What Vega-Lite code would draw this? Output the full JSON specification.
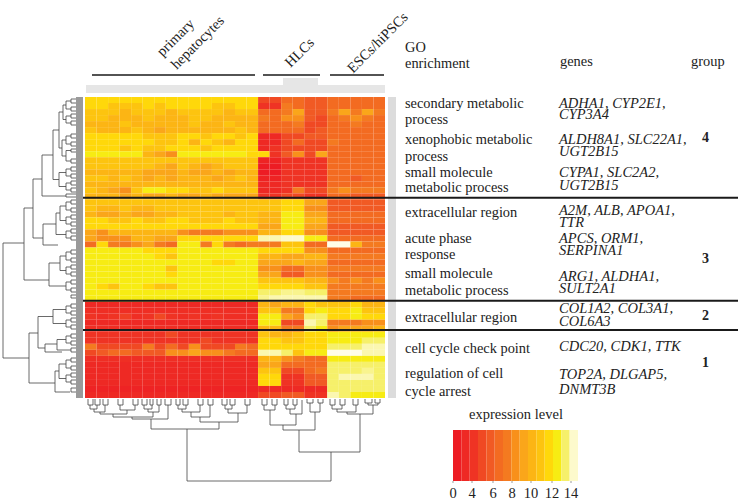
{"$schema":"https://vega.github.io/schema/vega-lite/v6.json","autosize":{"type":"fit","contains":"padding"},"width":738,"height":503,"padding":0,"background":"#ffffff","view":{"stroke":null},
"config":{"text":{"font":"Liberation Serif","fill":"#222222"}},
"datasets":{"top":[{"a":88,"b":93,"m":405,"p":399,"q":399},{"a":95,"b":100,"m":405,"p":399,"q":399},{"a":103,"b":108,"m":405,"p":399,"q":399},{"a":118,"b":123,"m":405,"p":399,"q":399},{"a":133,"b":138,"m":405,"p":399,"q":399},{"a":142,"b":147,"m":405,"p":399,"q":399},{"a":150,"b":153,"m":405,"p":399,"q":399},{"a":157,"b":161,"m":405,"p":399,"q":399},{"a":165,"b":171,"m":405,"p":399,"q":399},{"a":176,"b":180,"m":405,"p":399,"q":399},{"a":183,"b":188,"m":405,"p":399,"q":399},{"a":198,"b":203,"m":405,"p":399,"q":399},{"a":208,"b":213,"m":405,"p":399,"q":399},{"a":222,"b":227,"m":405,"p":399,"q":399},{"a":230,"b":235,"m":405,"p":399,"q":399},{"a":245,"b":250,"m":405,"p":399,"q":399},{"a":262,"b":267,"m":405,"p":399,"q":399},{"a":272,"b":277,"m":405,"p":399,"q":399},{"a":284,"b":288,"m":405,"p":399,"q":399},{"a":293,"b":297,"m":405,"p":399,"q":399},{"a":307,"b":313,"m":403,"p":399,"q":399},{"a":318,"b":323,"m":403,"p":399,"q":399},{"a":330,"b":335,"m":405,"p":399,"q":399},{"a":340,"b":345,"m":405,"p":399,"q":399},{"a":353,"b":358,"m":405,"p":399,"q":399},{"a":365,"b":372,"m":403,"p":399,"q":399},{"a":375,"b":380,"m":403,"p":399,"q":399},
{"a":90,"b":97,"m":409,"p":405,"q":405},{"a":94,"b":105,"m":412,"p":409,"q":405},{"a":120,"b":135,"m":410,"p":405,"q":405},{"a":100,"b":127,"m":414,"p":412,"q":410},{"a":144,"b":152,"m":409,"p":405,"q":405},{"a":148,"b":159,"m":412,"p":409,"q":405},{"a":113,"b":153,"m":417,"p":414,"q":412},{"a":132,"b":168,"m":419,"p":417,"q":405},{"a":178,"b":186,"m":409,"p":405,"q":405},{"a":182,"b":200,"m":412,"p":409,"q":405},{"a":191,"b":210,"m":417,"p":412,"q":405},{"a":225,"b":232,"m":409,"p":405,"q":405},{"a":228,"b":247,"m":413,"p":409,"q":405},{"a":200,"b":238,"m":422,"p":417,"q":413},{"a":151,"b":219,"m":429,"p":419,"q":422},
{"a":264,"b":275,"m":410,"p":405,"q":405},{"a":286,"b":295,"m":409,"p":405,"q":405},{"a":290,"b":302,"m":414,"p":409,"q":400},{"a":270,"b":296,"m":425,"p":410,"q":414},{"a":310,"b":320,"m":412,"p":403,"q":403},{"a":283,"b":315,"m":430,"p":425,"q":412},{"a":332,"b":342,"m":409,"p":405,"q":405},{"a":337,"b":356,"m":412,"p":409,"q":405},{"a":368,"b":378,"m":405,"p":403,"q":403},{"a":347,"b":373,"m":414,"p":412,"q":405},{"a":299,"b":360,"m":452,"p":430,"q":414},{"a":187,"b":331,"m":481,"p":429,"q":452}],
"left":[{"a":243,"b":358,"m":3,"p":24,"q":29},{"a":208,"b":280,"m":24,"p":33,"q":49},{"a":333,"b":383,"m":29,"p":38,"q":55},{"a":179,"b":238,"m":33,"p":42,"q":43},{"a":155,"b":196,"m":42,"p":53,"q":66},{"a":130,"b":179.5,"m":53,"p":59,"q":59},{"a":112,"b":148,"m":59,"p":63,"q":62},{"a":105,"b":119.5,"m":63,"p":66,"q":66},{"a":140,"b":156,"m":62,"p":66,"q":66},{"a":172.5,"b":186.5,"m":59,"p":66,"q":66},{"a":206,"b":220.5,"m":60,"p":66,"q":66},{"a":213,"b":234.5,"m":56,"p":60,"q":66},{"a":224,"b":245,"m":43,"p":56,"q":58},{"a":256,"b":270.5,"m":60,"p":66,"q":66},{"a":263,"b":286,"m":49,"p":60,"q":66},{"a":309.5,"b":323.5,"m":53,"p":66,"q":66},{"a":316.5,"b":348,"m":38,"p":53,"q":45},{"a":339.5,"b":350,"m":57,"p":66,"q":71},{"a":344,"b":352,"m":45,"p":57,"q":62},{"a":364,"b":378.5,"m":59,"p":66,"q":66},{"a":371,"b":392,"m":55,"p":59,"q":70},
{"a":101,"b":109,"m":66,"p":71,"q":71},{"a":116,"b":123,"m":66,"p":71,"q":71},{"a":136,"b":144,"m":66,"p":71,"q":71},{"a":150.5,"b":161,"m":66,"p":71,"q":71},{"a":169,"b":176,"m":66,"p":71,"q":71},{"a":183,"b":190,"m":66,"p":71,"q":71},{"a":202,"b":210,"m":66,"p":71,"q":71},{"a":217,"b":224,"m":66,"p":71,"q":71},{"a":231,"b":238,"m":66,"p":71,"q":71},{"a":252,"b":260,"m":66,"p":71,"q":71},{"a":267,"b":274,"m":66,"p":71,"q":71},{"a":282,"b":290,"m":66,"p":71,"q":71},{"a":306,"b":313,"m":66,"p":71,"q":71},{"a":320,"b":327,"m":66,"p":71,"q":71},{"a":336,"b":343,"m":66,"p":71,"q":71},{"a":360,"b":368,"m":66,"p":71,"q":71},{"a":375,"b":382,"m":66,"p":71,"q":71},
{"a":99,"b":103,"m":71,"p":76,"q":76},{"a":107,"b":111,"m":71,"p":76,"q":76},{"a":114,"b":118,"m":71,"p":76,"q":76},{"a":121,"b":125,"m":71,"p":76,"q":76},{"a":134,"b":138,"m":71,"p":76,"q":76},{"a":142,"b":146,"m":71,"p":76,"q":76},{"a":149,"b":152,"m":71,"p":76,"q":76},{"a":159,"b":163,"m":71,"p":76,"q":76},{"a":167,"b":171,"m":71,"p":76,"q":76},{"a":174,"b":178,"m":71,"p":76,"q":76},{"a":181,"b":185,"m":71,"p":76,"q":76},{"a":188,"b":192,"m":71,"p":76,"q":76},{"a":194,"b":197,"m":66,"p":76,"q":76},{"a":200,"b":204,"m":71,"p":76,"q":76},{"a":208,"b":212,"m":71,"p":76,"q":76},{"a":215,"b":219,"m":71,"p":76,"q":76},{"a":222,"b":226,"m":71,"p":76,"q":76},{"a":229,"b":233,"m":71,"p":76,"q":76},{"a":236,"b":240,"m":71,"p":76,"q":76},{"a":250,"b":254,"m":71,"p":76,"q":76},{"a":258,"b":262,"m":71,"p":76,"q":76},{"a":265,"b":269,"m":71,"p":76,"q":76},{"a":272,"b":276,"m":71,"p":76,"q":76},{"a":280,"b":284,"m":71,"p":76,"q":76},{"a":288,"b":292,"m":71,"p":76,"q":76},{"a":295,"b":298,"m":71,"p":76,"q":76},{"a":304,"b":308,"m":71,"p":76,"q":76},{"a":311,"b":315,"m":71,"p":76,"q":76},{"a":318,"b":322,"m":71,"p":76,"q":76},{"a":325,"b":329,"m":71,"p":76,"q":76},{"a":334,"b":338,"m":71,"p":76,"q":76},{"a":341,"b":345,"m":71,"p":76,"q":76},{"a":348,"b":352,"m":71,"p":76,"q":76},{"a":358,"b":362,"m":71,"p":76,"q":76},{"a":366,"b":370,"m":71,"p":76,"q":76},{"a":373,"b":377,"m":71,"p":76,"q":76},{"a":380,"b":384,"m":71,"p":76,"q":76},{"a":388,"b":392,"m":71,"p":76,"q":76}],
"heat":[
{"r":0,"c":0,"v":11},{"r":0,"c":1,"v":11},{"r":0,"c":2,"v":11},{"r":0,"c":3,"v":11},{"r":0,"c":4,"v":11},{"r":0,"c":5,"v":11},{"r":0,"c":6,"v":11},{"r":0,"c":7,"v":11},{"r":0,"c":8,"v":11},{"r":0,"c":9,"v":11},{"r":0,"c":10,"v":11},{"r":0,"c":11,"v":11},{"r":0,"c":12,"v":11},{"r":0,"c":13,"v":11},{"r":0,"c":14,"v":11},{"r":0,"c":15,"v":3},{"r":0,"c":16,"v":3},{"r":0,"c":17,"v":5},{"r":0,"c":18,"v":5},{"r":0,"c":19,"v":4},{"r":0,"c":20,"v":4},{"r":0,"c":21,"v":5},{"r":0,"c":22,"v":5},{"r":0,"c":23,"v":5},{"r":0,"c":24,"v":5},{"r":0,"c":25,"v":5},
{"r":1,"c":0,"v":11},{"r":1,"c":1,"v":11},{"r":1,"c":2,"v":10},{"r":1,"c":3,"v":10},{"r":1,"c":4,"v":10},{"r":1,"c":5,"v":11},{"r":1,"c":6,"v":10},{"r":1,"c":7,"v":11},{"r":1,"c":8,"v":11},{"r":1,"c":9,"v":11},{"r":1,"c":10,"v":11},{"r":1,"c":11,"v":10},{"r":1,"c":12,"v":10},{"r":1,"c":13,"v":11},{"r":1,"c":14,"v":11},{"r":1,"c":15,"v":2},{"r":1,"c":16,"v":2},{"r":1,"c":17,"v":6},{"r":1,"c":18,"v":5},{"r":1,"c":19,"v":4},{"r":1,"c":20,"v":4},{"r":1,"c":21,"v":5},{"r":1,"c":22,"v":5},{"r":1,"c":23,"v":5},{"r":1,"c":24,"v":5},{"r":1,"c":25,"v":5},
{"r":2,"c":0,"v":10},{"r":2,"c":1,"v":10},{"r":2,"c":2,"v":10},{"r":2,"c":3,"v":9},{"r":2,"c":4,"v":10},{"r":2,"c":5,"v":10},{"r":2,"c":6,"v":10},{"r":2,"c":7,"v":9},{"r":2,"c":8,"v":10},{"r":2,"c":9,"v":10},{"r":2,"c":10,"v":10},{"r":2,"c":11,"v":10},{"r":2,"c":12,"v":9},{"r":2,"c":13,"v":10},{"r":2,"c":14,"v":10},{"r":2,"c":15,"v":5},{"r":2,"c":16,"v":5},{"r":2,"c":17,"v":6},{"r":2,"c":18,"v":8},{"r":2,"c":19,"v":4},{"r":2,"c":20,"v":4},{"r":2,"c":21,"v":6},{"r":2,"c":22,"v":8},{"r":2,"c":23,"v":6},{"r":2,"c":24,"v":8},{"r":2,"c":25,"v":6},
{"r":3,"c":0,"v":10},{"r":3,"c":1,"v":10},{"r":3,"c":2,"v":9},{"r":3,"c":3,"v":9},{"r":3,"c":4,"v":9},{"r":3,"c":5,"v":10},{"r":3,"c":6,"v":9},{"r":3,"c":7,"v":9},{"r":3,"c":8,"v":9},{"r":3,"c":9,"v":10},{"r":3,"c":10,"v":10},{"r":3,"c":11,"v":9},{"r":3,"c":12,"v":9},{"r":3,"c":13,"v":9},{"r":3,"c":14,"v":9},{"r":3,"c":15,"v":6},{"r":3,"c":16,"v":5},{"r":3,"c":17,"v":7},{"r":3,"c":18,"v":7},{"r":3,"c":19,"v":4},{"r":3,"c":20,"v":3},{"r":3,"c":21,"v":5},{"r":3,"c":22,"v":6},{"r":3,"c":23,"v":7},{"r":3,"c":24,"v":6},{"r":3,"c":25,"v":5},
{"r":4,"c":0,"v":9},{"r":4,"c":1,"v":9},{"r":4,"c":2,"v":9},{"r":4,"c":3,"v":10},{"r":4,"c":4,"v":9},{"r":4,"c":5,"v":9},{"r":4,"c":6,"v":9},{"r":4,"c":7,"v":9},{"r":4,"c":8,"v":9},{"r":4,"c":9,"v":10},{"r":4,"c":10,"v":9},{"r":4,"c":11,"v":9},{"r":4,"c":12,"v":10},{"r":4,"c":13,"v":9},{"r":4,"c":14,"v":9},{"r":4,"c":15,"v":5},{"r":4,"c":16,"v":5},{"r":4,"c":17,"v":5},{"r":4,"c":18,"v":6},{"r":4,"c":19,"v":3},{"r":4,"c":20,"v":3},{"r":4,"c":21,"v":5},{"r":4,"c":22,"v":5},{"r":4,"c":23,"v":6},{"r":4,"c":24,"v":5},{"r":4,"c":25,"v":5},
{"r":5,"c":0,"v":10},{"r":5,"c":1,"v":9},{"r":5,"c":2,"v":9},{"r":5,"c":3,"v":9},{"r":5,"c":4,"v":10},{"r":5,"c":5,"v":9},{"r":5,"c":6,"v":8},{"r":5,"c":7,"v":9},{"r":5,"c":8,"v":9},{"r":5,"c":9,"v":9},{"r":5,"c":10,"v":9},{"r":5,"c":11,"v":9},{"r":5,"c":12,"v":9},{"r":5,"c":13,"v":10},{"r":5,"c":14,"v":9},{"r":5,"c":15,"v":5},{"r":5,"c":16,"v":5},{"r":5,"c":17,"v":5},{"r":5,"c":18,"v":5},{"r":5,"c":19,"v":3},{"r":5,"c":20,"v":4},{"r":5,"c":21,"v":5},{"r":5,"c":22,"v":5},{"r":5,"c":23,"v":5},{"r":5,"c":24,"v":5},{"r":5,"c":25,"v":5},
{"r":6,"c":0,"v":11},{"r":6,"c":1,"v":11},{"r":6,"c":2,"v":11},{"r":6,"c":3,"v":11},{"r":6,"c":4,"v":11},{"r":6,"c":5,"v":10},{"r":6,"c":6,"v":10},{"r":6,"c":7,"v":10},{"r":6,"c":8,"v":11},{"r":6,"c":9,"v":11},{"r":6,"c":10,"v":10},{"r":6,"c":11,"v":11},{"r":6,"c":12,"v":11},{"r":6,"c":13,"v":10},{"r":6,"c":14,"v":11},{"r":6,"c":15,"v":1},{"r":6,"c":16,"v":1},{"r":6,"c":17,"v":3},{"r":6,"c":18,"v":3},{"r":6,"c":19,"v":4},{"r":6,"c":20,"v":4},{"r":6,"c":21,"v":5},{"r":6,"c":22,"v":5},{"r":6,"c":23,"v":5},{"r":6,"c":24,"v":5},{"r":6,"c":25,"v":5},
{"r":7,"c":0,"v":11},{"r":7,"c":1,"v":11},{"r":7,"c":2,"v":11},{"r":7,"c":3,"v":11},{"r":7,"c":4,"v":11},{"r":7,"c":5,"v":11},{"r":7,"c":6,"v":10},{"r":7,"c":7,"v":10},{"r":7,"c":8,"v":11},{"r":7,"c":9,"v":9},{"r":7,"c":10,"v":11},{"r":7,"c":11,"v":10},{"r":7,"c":12,"v":9},{"r":7,"c":13,"v":11},{"r":7,"c":14,"v":11},{"r":7,"c":15,"v":1},{"r":7,"c":16,"v":1},{"r":7,"c":17,"v":3},{"r":7,"c":18,"v":5},{"r":7,"c":19,"v":3},{"r":7,"c":20,"v":3},{"r":7,"c":21,"v":6},{"r":7,"c":22,"v":5},{"r":7,"c":23,"v":5},{"r":7,"c":24,"v":5},{"r":7,"c":25,"v":5},
{"r":8,"c":0,"v":11},{"r":8,"c":1,"v":11},{"r":8,"c":2,"v":11},{"r":8,"c":3,"v":10},{"r":8,"c":4,"v":11},{"r":8,"c":5,"v":10},{"r":8,"c":6,"v":10},{"r":8,"c":7,"v":11},{"r":8,"c":8,"v":11},{"r":8,"c":9,"v":11},{"r":8,"c":10,"v":10},{"r":8,"c":11,"v":11},{"r":8,"c":12,"v":11},{"r":8,"c":13,"v":11},{"r":8,"c":14,"v":11},{"r":8,"c":15,"v":1},{"r":8,"c":16,"v":2},{"r":8,"c":17,"v":3},{"r":8,"c":18,"v":3},{"r":8,"c":19,"v":3},{"r":8,"c":20,"v":3},{"r":8,"c":21,"v":5},{"r":8,"c":22,"v":5},{"r":8,"c":23,"v":5},{"r":8,"c":24,"v":5},{"r":8,"c":25,"v":5},
{"r":9,"c":0,"v":12},{"r":9,"c":1,"v":12},{"r":9,"c":2,"v":12},{"r":9,"c":3,"v":12},{"r":9,"c":4,"v":12},{"r":9,"c":5,"v":9},{"r":9,"c":6,"v":8},{"r":9,"c":7,"v":7},{"r":9,"c":8,"v":12},{"r":9,"c":9,"v":12},{"r":9,"c":10,"v":12},{"r":9,"c":11,"v":12},{"r":9,"c":12,"v":12},{"r":9,"c":13,"v":12},{"r":9,"c":14,"v":11},{"r":9,"c":15,"v":11},{"r":9,"c":16,"v":2},{"r":9,"c":17,"v":4},{"r":9,"c":18,"v":7},{"r":9,"c":19,"v":3},{"r":9,"c":20,"v":8},{"r":9,"c":21,"v":5},{"r":9,"c":22,"v":5},{"r":9,"c":23,"v":5},{"r":9,"c":24,"v":5},{"r":9,"c":25,"v":5},
{"r":10,"c":0,"v":10},{"r":10,"c":1,"v":10},{"r":10,"c":2,"v":10},{"r":10,"c":3,"v":10},{"r":10,"c":4,"v":10},{"r":10,"c":5,"v":10},{"r":10,"c":6,"v":10},{"r":10,"c":7,"v":10},{"r":10,"c":8,"v":10},{"r":10,"c":9,"v":10},{"r":10,"c":10,"v":10},{"r":10,"c":11,"v":10},{"r":10,"c":12,"v":10},{"r":10,"c":13,"v":10},{"r":10,"c":14,"v":10},{"r":10,"c":15,"v":0.5},{"r":10,"c":16,"v":0.5},{"r":10,"c":17,"v":2},{"r":10,"c":18,"v":2},{"r":10,"c":19,"v":2},{"r":10,"c":20,"v":2},{"r":10,"c":21,"v":5},{"r":10,"c":22,"v":5},{"r":10,"c":23,"v":5},{"r":10,"c":24,"v":5},{"r":10,"c":25,"v":5},
{"r":11,"c":0,"v":10},{"r":11,"c":1,"v":10},{"r":11,"c":2,"v":10},{"r":11,"c":3,"v":10},{"r":11,"c":4,"v":10},{"r":11,"c":5,"v":10},{"r":11,"c":6,"v":9},{"r":11,"c":7,"v":8},{"r":11,"c":8,"v":10},{"r":11,"c":9,"v":9},{"r":11,"c":10,"v":8},{"r":11,"c":11,"v":9},{"r":11,"c":12,"v":10},{"r":11,"c":13,"v":10},{"r":11,"c":14,"v":10},{"r":11,"c":15,"v":0},{"r":11,"c":16,"v":0},{"r":11,"c":17,"v":2},{"r":11,"c":18,"v":2},{"r":11,"c":19,"v":2},{"r":11,"c":20,"v":2},{"r":11,"c":21,"v":5},{"r":11,"c":22,"v":5},{"r":11,"c":23,"v":5},{"r":11,"c":24,"v":5},{"r":11,"c":25,"v":5},
{"r":12,"c":0,"v":9},{"r":12,"c":1,"v":9},{"r":12,"c":2,"v":9},{"r":12,"c":3,"v":9},{"r":12,"c":4,"v":9},{"r":12,"c":5,"v":8},{"r":12,"c":6,"v":8},{"r":12,"c":7,"v":8},{"r":12,"c":8,"v":9},{"r":12,"c":9,"v":8},{"r":12,"c":10,"v":8},{"r":12,"c":11,"v":9},{"r":12,"c":12,"v":8},{"r":12,"c":13,"v":9},{"r":12,"c":14,"v":9},{"r":12,"c":15,"v":0},{"r":12,"c":16,"v":0},{"r":12,"c":17,"v":2},{"r":12,"c":18,"v":2},{"r":12,"c":19,"v":2},{"r":12,"c":20,"v":2},{"r":12,"c":21,"v":5},{"r":12,"c":22,"v":5},{"r":12,"c":23,"v":5},{"r":12,"c":24,"v":5},{"r":12,"c":25,"v":5},
{"r":13,"c":0,"v":10},{"r":13,"c":1,"v":10},{"r":13,"c":2,"v":9},{"r":13,"c":3,"v":10},{"r":13,"c":4,"v":9},{"r":13,"c":5,"v":8},{"r":13,"c":6,"v":9},{"r":13,"c":7,"v":8},{"r":13,"c":8,"v":9},{"r":13,"c":9,"v":9},{"r":13,"c":10,"v":9},{"r":13,"c":11,"v":8},{"r":13,"c":12,"v":9},{"r":13,"c":13,"v":10},{"r":13,"c":14,"v":9},{"r":13,"c":15,"v":0.5},{"r":13,"c":16,"v":0.5},{"r":13,"c":17,"v":2},{"r":13,"c":18,"v":2},{"r":13,"c":19,"v":2},{"r":13,"c":20,"v":2},{"r":13,"c":21,"v":5},{"r":13,"c":22,"v":5},{"r":13,"c":23,"v":4},{"r":13,"c":24,"v":5},{"r":13,"c":25,"v":5},
{"r":14,"c":0,"v":9},{"r":14,"c":1,"v":9},{"r":14,"c":2,"v":9},{"r":14,"c":3,"v":9},{"r":14,"c":4,"v":9},{"r":14,"c":5,"v":9},{"r":14,"c":6,"v":9},{"r":14,"c":7,"v":9},{"r":14,"c":8,"v":9},{"r":14,"c":9,"v":9},{"r":14,"c":10,"v":9},{"r":14,"c":11,"v":9},{"r":14,"c":12,"v":9},{"r":14,"c":13,"v":9},{"r":14,"c":14,"v":9},{"r":14,"c":15,"v":1},{"r":14,"c":16,"v":1},{"r":14,"c":17,"v":2},{"r":14,"c":18,"v":2},{"r":14,"c":19,"v":2},{"r":14,"c":20,"v":2},{"r":14,"c":21,"v":5},{"r":14,"c":22,"v":5},{"r":14,"c":23,"v":5},{"r":14,"c":24,"v":5},{"r":14,"c":25,"v":5},
{"r":15,"c":0,"v":10},{"r":15,"c":1,"v":9},{"r":15,"c":2,"v":8},{"r":15,"c":3,"v":7},{"r":15,"c":4,"v":10},{"r":15,"c":5,"v":12},{"r":15,"c":6,"v":12},{"r":15,"c":7,"v":11},{"r":15,"c":8,"v":11},{"r":15,"c":9,"v":10},{"r":15,"c":10,"v":10},{"r":15,"c":11,"v":11},{"r":15,"c":12,"v":10},{"r":15,"c":13,"v":10},{"r":15,"c":14,"v":10},{"r":15,"c":15,"v":1},{"r":15,"c":16,"v":1},{"r":15,"c":17,"v":2},{"r":15,"c":18,"v":6},{"r":15,"c":19,"v":3},{"r":15,"c":20,"v":3},{"r":15,"c":21,"v":6},{"r":15,"c":22,"v":7},{"r":15,"c":23,"v":6},{"r":15,"c":24,"v":6},{"r":15,"c":25,"v":6},
{"r":16,"c":0,"v":9},{"r":16,"c":1,"v":9},{"r":16,"c":2,"v":9},{"r":16,"c":3,"v":8},{"r":16,"c":4,"v":9},{"r":16,"c":5,"v":8},{"r":16,"c":6,"v":8},{"r":16,"c":7,"v":9},{"r":16,"c":8,"v":8},{"r":16,"c":9,"v":8},{"r":16,"c":10,"v":9},{"r":16,"c":11,"v":8},{"r":16,"c":12,"v":8},{"r":16,"c":13,"v":8},{"r":16,"c":14,"v":8},{"r":16,"c":15,"v":2},{"r":16,"c":16,"v":2},{"r":16,"c":17,"v":3},{"r":16,"c":18,"v":3},{"r":16,"c":19,"v":2},{"r":16,"c":20,"v":2},{"r":16,"c":21,"v":5},{"r":16,"c":22,"v":5},{"r":16,"c":23,"v":4},{"r":16,"c":24,"v":4},{"r":16,"c":25,"v":4},
{"r":17,"c":0,"v":10},{"r":17,"c":1,"v":10},{"r":17,"c":2,"v":10},{"r":17,"c":3,"v":10},{"r":17,"c":4,"v":10},{"r":17,"c":5,"v":10},{"r":17,"c":6,"v":10},{"r":17,"c":7,"v":10},{"r":17,"c":8,"v":10},{"r":17,"c":9,"v":10},{"r":17,"c":10,"v":10},{"r":17,"c":11,"v":10},{"r":17,"c":12,"v":10},{"r":17,"c":13,"v":10},{"r":17,"c":14,"v":10},{"r":17,"c":15,"v":10},{"r":17,"c":16,"v":10},{"r":17,"c":17,"v":11},{"r":17,"c":18,"v":11},{"r":17,"c":19,"v":8},{"r":17,"c":20,"v":8},{"r":17,"c":21,"v":4},{"r":17,"c":22,"v":4},{"r":17,"c":23,"v":4},{"r":17,"c":24,"v":4},{"r":17,"c":25,"v":4},
{"r":18,"c":0,"v":10},{"r":18,"c":1,"v":9},{"r":18,"c":2,"v":9},{"r":18,"c":3,"v":10},{"r":18,"c":4,"v":9},{"r":18,"c":5,"v":9},{"r":18,"c":6,"v":10},{"r":18,"c":7,"v":10},{"r":18,"c":8,"v":10},{"r":18,"c":9,"v":10},{"r":18,"c":10,"v":10},{"r":18,"c":11,"v":10},{"r":18,"c":12,"v":10},{"r":18,"c":13,"v":10},{"r":18,"c":14,"v":10},{"r":18,"c":15,"v":10},{"r":18,"c":16,"v":10},{"r":18,"c":17,"v":11},{"r":18,"c":18,"v":11},{"r":18,"c":19,"v":7},{"r":18,"c":20,"v":7},{"r":18,"c":21,"v":4},{"r":18,"c":22,"v":4},{"r":18,"c":23,"v":4},{"r":18,"c":24,"v":4},{"r":18,"c":25,"v":4},
{"r":19,"c":0,"v":9},{"r":19,"c":1,"v":8},{"r":19,"c":2,"v":8},{"r":19,"c":3,"v":9},{"r":19,"c":4,"v":8},{"r":19,"c":5,"v":8},{"r":19,"c":6,"v":9},{"r":19,"c":7,"v":9},{"r":19,"c":8,"v":10},{"r":19,"c":9,"v":10},{"r":19,"c":10,"v":10},{"r":19,"c":11,"v":10},{"r":19,"c":12,"v":9},{"r":19,"c":13,"v":10},{"r":19,"c":14,"v":10},{"r":19,"c":15,"v":9},{"r":19,"c":16,"v":9},{"r":19,"c":17,"v":12},{"r":19,"c":18,"v":12},{"r":19,"c":19,"v":8},{"r":19,"c":20,"v":8},{"r":19,"c":21,"v":5},{"r":19,"c":22,"v":5},{"r":19,"c":23,"v":5},{"r":19,"c":24,"v":5},{"r":19,"c":25,"v":5},
{"r":20,"c":0,"v":11},{"r":20,"c":1,"v":11},{"r":20,"c":2,"v":10},{"r":20,"c":3,"v":10},{"r":20,"c":4,"v":11},{"r":20,"c":5,"v":10},{"r":20,"c":6,"v":10},{"r":20,"c":7,"v":11},{"r":20,"c":8,"v":11},{"r":20,"c":9,"v":10},{"r":20,"c":10,"v":10},{"r":20,"c":11,"v":10},{"r":20,"c":12,"v":11},{"r":20,"c":13,"v":10},{"r":20,"c":14,"v":10},{"r":20,"c":15,"v":9},{"r":20,"c":16,"v":9},{"r":20,"c":17,"v":12},{"r":20,"c":18,"v":12},{"r":20,"c":19,"v":9},{"r":20,"c":20,"v":9},{"r":20,"c":21,"v":5},{"r":20,"c":22,"v":5},{"r":20,"c":23,"v":5},{"r":20,"c":24,"v":5},{"r":20,"c":25,"v":5},
{"r":21,"c":0,"v":11},{"r":21,"c":1,"v":11},{"r":21,"c":2,"v":11},{"r":21,"c":3,"v":11},{"r":21,"c":4,"v":11},{"r":21,"c":5,"v":11},{"r":21,"c":6,"v":11},{"r":21,"c":7,"v":11},{"r":21,"c":8,"v":11},{"r":21,"c":9,"v":11},{"r":21,"c":10,"v":11},{"r":21,"c":11,"v":11},{"r":21,"c":12,"v":11},{"r":21,"c":13,"v":11},{"r":21,"c":14,"v":11},{"r":21,"c":15,"v":8},{"r":21,"c":16,"v":8},{"r":21,"c":17,"v":12},{"r":21,"c":18,"v":12},{"r":21,"c":19,"v":8},{"r":21,"c":20,"v":8},{"r":21,"c":21,"v":4},{"r":21,"c":22,"v":4},{"r":21,"c":23,"v":4},{"r":21,"c":24,"v":4},{"r":21,"c":25,"v":4},
{"r":22,"c":0,"v":8},{"r":22,"c":1,"v":7},{"r":22,"c":2,"v":9},{"r":22,"c":3,"v":9},{"r":22,"c":4,"v":9},{"r":22,"c":5,"v":9},{"r":22,"c":6,"v":9},{"r":22,"c":7,"v":9},{"r":22,"c":8,"v":7},{"r":22,"c":9,"v":6},{"r":22,"c":10,"v":6},{"r":22,"c":11,"v":6},{"r":22,"c":12,"v":7},{"r":22,"c":13,"v":7},{"r":22,"c":14,"v":7},{"r":22,"c":15,"v":9},{"r":22,"c":16,"v":9},{"r":22,"c":17,"v":11},{"r":22,"c":18,"v":11},{"r":22,"c":19,"v":7},{"r":22,"c":20,"v":7},{"r":22,"c":21,"v":4},{"r":22,"c":22,"v":4},{"r":22,"c":23,"v":4},{"r":22,"c":24,"v":4},{"r":22,"c":25,"v":4},
{"r":23,"c":0,"v":8},{"r":23,"c":1,"v":7},{"r":23,"c":2,"v":7},{"r":23,"c":3,"v":7},{"r":23,"c":4,"v":9},{"r":23,"c":5,"v":9},{"r":23,"c":6,"v":8},{"r":23,"c":7,"v":8},{"r":23,"c":8,"v":11},{"r":23,"c":9,"v":11},{"r":23,"c":10,"v":11},{"r":23,"c":11,"v":11},{"r":23,"c":12,"v":11},{"r":23,"c":13,"v":11},{"r":23,"c":14,"v":11},{"r":23,"c":15,"v":14},{"r":23,"c":16,"v":14},{"r":23,"c":17,"v":14.5},{"r":23,"c":18,"v":14.5},{"r":23,"c":19,"v":12},{"r":23,"c":20,"v":12},{"r":23,"c":21,"v":5},{"r":23,"c":22,"v":5},{"r":23,"c":23,"v":5},{"r":23,"c":24,"v":5},{"r":23,"c":25,"v":5},
{"r":24,"c":0,"v":5},{"r":24,"c":1,"v":11},{"r":24,"c":2,"v":6},{"r":24,"c":3,"v":6},{"r":24,"c":4,"v":7},{"r":24,"c":5,"v":8},{"r":24,"c":6,"v":6},{"r":24,"c":7,"v":5},{"r":24,"c":8,"v":12},{"r":24,"c":9,"v":12},{"r":24,"c":10,"v":6},{"r":24,"c":11,"v":11},{"r":24,"c":12,"v":6},{"r":24,"c":13,"v":5},{"r":24,"c":14,"v":6},{"r":24,"c":15,"v":6},{"r":24,"c":16,"v":6},{"r":24,"c":17,"v":10},{"r":24,"c":18,"v":10},{"r":24,"c":19,"v":5},{"r":24,"c":20,"v":5},{"r":24,"c":21,"v":15},{"r":24,"c":22,"v":15},{"r":24,"c":23,"v":9},{"r":24,"c":24,"v":6},{"r":24,"c":25,"v":6},
{"r":25,"c":0,"v":12},{"r":25,"c":1,"v":12},{"r":25,"c":2,"v":12},{"r":25,"c":3,"v":12},{"r":25,"c":4,"v":12},{"r":25,"c":5,"v":11},{"r":25,"c":6,"v":11},{"r":25,"c":7,"v":11},{"r":25,"c":8,"v":12},{"r":25,"c":9,"v":12},{"r":25,"c":10,"v":12},{"r":25,"c":11,"v":12},{"r":25,"c":12,"v":12},{"r":25,"c":13,"v":12},{"r":25,"c":14,"v":12},{"r":25,"c":15,"v":11},{"r":25,"c":16,"v":11},{"r":25,"c":17,"v":11},{"r":25,"c":18,"v":11},{"r":25,"c":19,"v":7},{"r":25,"c":20,"v":7},{"r":25,"c":21,"v":5},{"r":25,"c":22,"v":5},{"r":25,"c":23,"v":5},{"r":25,"c":24,"v":5},{"r":25,"c":25,"v":5},
{"r":26,"c":0,"v":12},{"r":26,"c":1,"v":12},{"r":26,"c":2,"v":12},{"r":26,"c":3,"v":12},{"r":26,"c":4,"v":12},{"r":26,"c":5,"v":12},{"r":26,"c":6,"v":11},{"r":26,"c":7,"v":10},{"r":26,"c":8,"v":12},{"r":26,"c":9,"v":12},{"r":26,"c":10,"v":12},{"r":26,"c":11,"v":12},{"r":26,"c":12,"v":12},{"r":26,"c":13,"v":12},{"r":26,"c":14,"v":12},{"r":26,"c":15,"v":9},{"r":26,"c":16,"v":9},{"r":26,"c":17,"v":8},{"r":26,"c":18,"v":8},{"r":26,"c":19,"v":9},{"r":26,"c":20,"v":9},{"r":26,"c":21,"v":6},{"r":26,"c":22,"v":6},{"r":26,"c":23,"v":6},{"r":26,"c":24,"v":6},{"r":26,"c":25,"v":6},
{"r":27,"c":0,"v":12},{"r":27,"c":1,"v":12},{"r":27,"c":2,"v":12},{"r":27,"c":3,"v":12},{"r":27,"c":4,"v":12},{"r":27,"c":5,"v":12},{"r":27,"c":6,"v":12},{"r":27,"c":7,"v":12},{"r":27,"c":8,"v":12},{"r":27,"c":9,"v":12},{"r":27,"c":10,"v":12},{"r":27,"c":11,"v":11},{"r":27,"c":12,"v":11},{"r":27,"c":13,"v":12},{"r":27,"c":14,"v":12},{"r":27,"c":15,"v":8},{"r":27,"c":16,"v":8},{"r":27,"c":17,"v":8},{"r":27,"c":18,"v":9},{"r":27,"c":19,"v":8},{"r":27,"c":20,"v":8},{"r":27,"c":21,"v":5},{"r":27,"c":22,"v":5},{"r":27,"c":23,"v":5},{"r":27,"c":24,"v":5},{"r":27,"c":25,"v":5},
{"r":28,"c":0,"v":12},{"r":28,"c":1,"v":12},{"r":28,"c":2,"v":12},{"r":28,"c":3,"v":12},{"r":28,"c":4,"v":12},{"r":28,"c":5,"v":12},{"r":28,"c":6,"v":12},{"r":28,"c":7,"v":10},{"r":28,"c":8,"v":12},{"r":28,"c":9,"v":12},{"r":28,"c":10,"v":12},{"r":28,"c":11,"v":12},{"r":28,"c":12,"v":12},{"r":28,"c":13,"v":12},{"r":28,"c":14,"v":12},{"r":28,"c":15,"v":7},{"r":28,"c":16,"v":7},{"r":28,"c":17,"v":5},{"r":28,"c":18,"v":5},{"r":28,"c":19,"v":7},{"r":28,"c":20,"v":7},{"r":28,"c":21,"v":6},{"r":28,"c":22,"v":6},{"r":28,"c":23,"v":6},{"r":28,"c":24,"v":6},{"r":28,"c":25,"v":6},
{"r":29,"c":0,"v":12},{"r":29,"c":1,"v":12},{"r":29,"c":2,"v":12},{"r":29,"c":3,"v":12},{"r":29,"c":4,"v":12},{"r":29,"c":5,"v":12},{"r":29,"c":6,"v":12},{"r":29,"c":7,"v":11},{"r":29,"c":8,"v":12},{"r":29,"c":9,"v":12},{"r":29,"c":10,"v":12},{"r":29,"c":11,"v":12},{"r":29,"c":12,"v":12},{"r":29,"c":13,"v":12},{"r":29,"c":14,"v":12},{"r":29,"c":15,"v":8},{"r":29,"c":16,"v":8},{"r":29,"c":17,"v":4},{"r":29,"c":18,"v":4},{"r":29,"c":19,"v":7},{"r":29,"c":20,"v":7},{"r":29,"c":21,"v":5},{"r":29,"c":22,"v":5},{"r":29,"c":23,"v":5},{"r":29,"c":24,"v":5},{"r":29,"c":25,"v":5},
{"r":30,"c":0,"v":12},{"r":30,"c":1,"v":12},{"r":30,"c":2,"v":12},{"r":30,"c":3,"v":12},{"r":30,"c":4,"v":12},{"r":30,"c":5,"v":12},{"r":30,"c":6,"v":12},{"r":30,"c":7,"v":12},{"r":30,"c":8,"v":12},{"r":30,"c":9,"v":12},{"r":30,"c":10,"v":12},{"r":30,"c":11,"v":12},{"r":30,"c":12,"v":12},{"r":30,"c":13,"v":12},{"r":30,"c":14,"v":12},{"r":30,"c":15,"v":10},{"r":30,"c":16,"v":10},{"r":30,"c":17,"v":10},{"r":30,"c":18,"v":10},{"r":30,"c":19,"v":9},{"r":30,"c":20,"v":9},{"r":30,"c":21,"v":7},{"r":30,"c":22,"v":6},{"r":30,"c":23,"v":7},{"r":30,"c":24,"v":6},{"r":30,"c":25,"v":7},
{"r":31,"c":0,"v":12},{"r":31,"c":1,"v":11},{"r":31,"c":2,"v":10},{"r":31,"c":3,"v":12},{"r":31,"c":4,"v":12},{"r":31,"c":5,"v":11},{"r":31,"c":6,"v":10},{"r":31,"c":7,"v":10},{"r":31,"c":8,"v":12},{"r":31,"c":9,"v":12},{"r":31,"c":10,"v":12},{"r":31,"c":11,"v":12},{"r":31,"c":12,"v":12},{"r":31,"c":13,"v":12},{"r":31,"c":14,"v":12},{"r":31,"c":15,"v":11},{"r":31,"c":16,"v":11},{"r":31,"c":17,"v":11},{"r":31,"c":18,"v":11},{"r":31,"c":19,"v":10},{"r":31,"c":20,"v":10},{"r":31,"c":21,"v":6},{"r":31,"c":22,"v":6},{"r":31,"c":23,"v":6},{"r":31,"c":24,"v":6},{"r":31,"c":25,"v":6},
{"r":32,"c":0,"v":12},{"r":32,"c":1,"v":12},{"r":32,"c":2,"v":12},{"r":32,"c":3,"v":12},{"r":32,"c":4,"v":12},{"r":32,"c":5,"v":12},{"r":32,"c":6,"v":12},{"r":32,"c":7,"v":12},{"r":32,"c":8,"v":12},{"r":32,"c":9,"v":12},{"r":32,"c":10,"v":12},{"r":32,"c":11,"v":12},{"r":32,"c":12,"v":12},{"r":32,"c":13,"v":12},{"r":32,"c":14,"v":12},{"r":32,"c":15,"v":13},{"r":32,"c":16,"v":13},{"r":32,"c":17,"v":13.5},{"r":32,"c":18,"v":13.5},{"r":32,"c":19,"v":13},{"r":32,"c":20,"v":13},{"r":32,"c":21,"v":6},{"r":32,"c":22,"v":6},{"r":32,"c":23,"v":6},{"r":32,"c":24,"v":6},{"r":32,"c":25,"v":6},
{"r":33,"c":0,"v":12},{"r":33,"c":1,"v":12},{"r":33,"c":2,"v":12},{"r":33,"c":3,"v":12},{"r":33,"c":4,"v":12},{"r":33,"c":5,"v":12},{"r":33,"c":6,"v":12},{"r":33,"c":7,"v":12},{"r":33,"c":8,"v":12},{"r":33,"c":9,"v":12},{"r":33,"c":10,"v":12},{"r":33,"c":11,"v":12},{"r":33,"c":12,"v":12},{"r":33,"c":13,"v":12},{"r":33,"c":14,"v":12},{"r":33,"c":15,"v":13.5},{"r":33,"c":16,"v":14},{"r":33,"c":17,"v":14},{"r":33,"c":18,"v":14},{"r":33,"c":19,"v":14},{"r":33,"c":20,"v":14},{"r":33,"c":21,"v":6},{"r":33,"c":22,"v":6},{"r":33,"c":23,"v":5},{"r":33,"c":24,"v":5},{"r":33,"c":25,"v":5},
{"r":34,"c":0,"v":1},{"r":34,"c":1,"v":1},{"r":34,"c":2,"v":1},{"r":34,"c":3,"v":1},{"r":34,"c":4,"v":1},{"r":34,"c":5,"v":1},{"r":34,"c":6,"v":1},{"r":34,"c":7,"v":1},{"r":34,"c":8,"v":1},{"r":34,"c":9,"v":1},{"r":34,"c":10,"v":1},{"r":34,"c":11,"v":1},{"r":34,"c":12,"v":1},{"r":34,"c":13,"v":1},{"r":34,"c":14,"v":1},{"r":34,"c":15,"v":9},{"r":34,"c":16,"v":8},{"r":34,"c":17,"v":9},{"r":34,"c":18,"v":9},{"r":34,"c":19,"v":11},{"r":34,"c":20,"v":10},{"r":34,"c":21,"v":10},{"r":34,"c":22,"v":10},{"r":34,"c":23,"v":11},{"r":34,"c":24,"v":9},{"r":34,"c":25,"v":9},
{"r":35,"c":0,"v":1.5},{"r":35,"c":1,"v":1.5},{"r":35,"c":2,"v":1.5},{"r":35,"c":3,"v":1.5},{"r":35,"c":4,"v":1.5},{"r":35,"c":5,"v":1.5},{"r":35,"c":6,"v":1.5},{"r":35,"c":7,"v":1.5},{"r":35,"c":8,"v":1.5},{"r":35,"c":9,"v":1.5},{"r":35,"c":10,"v":1.5},{"r":35,"c":11,"v":1.5},{"r":35,"c":12,"v":1.5},{"r":35,"c":13,"v":1.5},{"r":35,"c":14,"v":1.5},{"r":35,"c":15,"v":10},{"r":35,"c":16,"v":10},{"r":35,"c":17,"v":6},{"r":35,"c":18,"v":6},{"r":35,"c":19,"v":11},{"r":35,"c":20,"v":12},{"r":35,"c":21,"v":11},{"r":35,"c":22,"v":11},{"r":35,"c":23,"v":12},{"r":35,"c":24,"v":10},{"r":35,"c":25,"v":10},
{"r":36,"c":0,"v":2},{"r":36,"c":1,"v":1.5},{"r":36,"c":2,"v":2},{"r":36,"c":3,"v":2.5},{"r":36,"c":4,"v":1.5},{"r":36,"c":5,"v":2},{"r":36,"c":6,"v":3},{"r":36,"c":7,"v":2},{"r":36,"c":8,"v":1.5},{"r":36,"c":9,"v":2},{"r":36,"c":10,"v":1.5},{"r":36,"c":11,"v":2},{"r":36,"c":12,"v":1.5},{"r":36,"c":13,"v":1.5},{"r":36,"c":14,"v":1.5},{"r":36,"c":15,"v":12},{"r":36,"c":16,"v":12},{"r":36,"c":17,"v":8},{"r":36,"c":18,"v":7},{"r":36,"c":19,"v":13},{"r":36,"c":20,"v":13},{"r":36,"c":21,"v":11},{"r":36,"c":22,"v":11},{"r":36,"c":23,"v":12},{"r":36,"c":24,"v":11},{"r":36,"c":25,"v":11},
{"r":37,"c":0,"v":1},{"r":37,"c":1,"v":1},{"r":37,"c":2,"v":1},{"r":37,"c":3,"v":1},{"r":37,"c":4,"v":1},{"r":37,"c":5,"v":1},{"r":37,"c":6,"v":1},{"r":37,"c":7,"v":1},{"r":37,"c":8,"v":1},{"r":37,"c":9,"v":1},{"r":37,"c":10,"v":1},{"r":37,"c":11,"v":1},{"r":37,"c":12,"v":1},{"r":37,"c":13,"v":1},{"r":37,"c":14,"v":1},{"r":37,"c":15,"v":12},{"r":37,"c":16,"v":12},{"r":37,"c":17,"v":3},{"r":37,"c":18,"v":3},{"r":37,"c":19,"v":14},{"r":37,"c":20,"v":13},{"r":37,"c":21,"v":6},{"r":37,"c":22,"v":6},{"r":37,"c":23,"v":6},{"r":37,"c":24,"v":7},{"r":37,"c":25,"v":7},
{"r":38,"c":0,"v":1.5},{"r":38,"c":1,"v":1.5},{"r":38,"c":2,"v":1.5},{"r":38,"c":3,"v":1.5},{"r":38,"c":4,"v":1.5},{"r":38,"c":5,"v":1.5},{"r":38,"c":6,"v":1.5},{"r":38,"c":7,"v":1.5},{"r":38,"c":8,"v":1.5},{"r":38,"c":9,"v":1.5},{"r":38,"c":10,"v":1.5},{"r":38,"c":11,"v":1.5},{"r":38,"c":12,"v":1.5},{"r":38,"c":13,"v":1.5},{"r":38,"c":14,"v":1.5},{"r":38,"c":15,"v":9},{"r":38,"c":16,"v":9},{"r":38,"c":17,"v":6},{"r":38,"c":18,"v":6},{"r":38,"c":19,"v":13},{"r":38,"c":20,"v":12},{"r":38,"c":21,"v":7},{"r":38,"c":22,"v":8},{"r":38,"c":23,"v":8},{"r":38,"c":24,"v":8},{"r":38,"c":25,"v":9},
{"r":39,"c":0,"v":2},{"r":39,"c":1,"v":2},{"r":39,"c":2,"v":2},{"r":39,"c":3,"v":2},{"r":39,"c":4,"v":2},{"r":39,"c":5,"v":2},{"r":39,"c":6,"v":2},{"r":39,"c":7,"v":3},{"r":39,"c":8,"v":2},{"r":39,"c":9,"v":2},{"r":39,"c":10,"v":2},{"r":39,"c":11,"v":2},{"r":39,"c":12,"v":2},{"r":39,"c":13,"v":2},{"r":39,"c":14,"v":2},{"r":39,"c":15,"v":10},{"r":39,"c":16,"v":9},{"r":39,"c":17,"v":9},{"r":39,"c":18,"v":10},{"r":39,"c":19,"v":11},{"r":39,"c":20,"v":11},{"r":39,"c":21,"v":12},{"r":39,"c":22,"v":12},{"r":39,"c":23,"v":12},{"r":39,"c":24,"v":12},{"r":39,"c":25,"v":12},
{"r":40,"c":0,"v":2},{"r":40,"c":1,"v":2},{"r":40,"c":2,"v":2},{"r":40,"c":3,"v":2},{"r":40,"c":4,"v":2},{"r":40,"c":5,"v":2},{"r":40,"c":6,"v":2},{"r":40,"c":7,"v":2},{"r":40,"c":8,"v":2},{"r":40,"c":9,"v":2},{"r":40,"c":10,"v":3},{"r":40,"c":11,"v":2},{"r":40,"c":12,"v":2},{"r":40,"c":13,"v":2},{"r":40,"c":14,"v":2},{"r":40,"c":15,"v":11},{"r":40,"c":16,"v":11},{"r":40,"c":17,"v":10},{"r":40,"c":18,"v":10},{"r":40,"c":19,"v":11},{"r":40,"c":20,"v":11},{"r":40,"c":21,"v":12},{"r":40,"c":22,"v":12},{"r":40,"c":23,"v":12},{"r":40,"c":24,"v":13},{"r":40,"c":25,"v":13},
{"r":41,"c":0,"v":6},{"r":41,"c":1,"v":3},{"r":41,"c":2,"v":3},{"r":41,"c":3,"v":3},{"r":41,"c":4,"v":3},{"r":41,"c":5,"v":6},{"r":41,"c":6,"v":3},{"r":41,"c":7,"v":5},{"r":41,"c":8,"v":3},{"r":41,"c":9,"v":7},{"r":41,"c":10,"v":3},{"r":41,"c":11,"v":3},{"r":41,"c":12,"v":3},{"r":41,"c":13,"v":6},{"r":41,"c":14,"v":5},{"r":41,"c":15,"v":11},{"r":41,"c":16,"v":11},{"r":41,"c":17,"v":11},{"r":41,"c":18,"v":11},{"r":41,"c":19,"v":11},{"r":41,"c":20,"v":11},{"r":41,"c":21,"v":13},{"r":41,"c":22,"v":13},{"r":41,"c":23,"v":13},{"r":41,"c":24,"v":14},{"r":41,"c":25,"v":14},
{"r":42,"c":0,"v":3},{"r":42,"c":1,"v":4},{"r":42,"c":2,"v":5},{"r":42,"c":3,"v":5},{"r":42,"c":4,"v":4},{"r":42,"c":5,"v":4},{"r":42,"c":6,"v":4},{"r":42,"c":7,"v":7},{"r":42,"c":8,"v":7},{"r":42,"c":9,"v":8},{"r":42,"c":10,"v":7},{"r":42,"c":11,"v":7},{"r":42,"c":12,"v":6},{"r":42,"c":13,"v":5},{"r":42,"c":14,"v":5},{"r":42,"c":15,"v":14},{"r":42,"c":16,"v":14},{"r":42,"c":17,"v":13},{"r":42,"c":18,"v":10},{"r":42,"c":19,"v":12},{"r":42,"c":20,"v":12},{"r":42,"c":21,"v":15},{"r":42,"c":22,"v":15},{"r":42,"c":23,"v":15},{"r":42,"c":24,"v":14},{"r":42,"c":25,"v":14},
{"r":43,"c":0,"v":1.5},{"r":43,"c":1,"v":1.5},{"r":43,"c":2,"v":1.5},{"r":43,"c":3,"v":1.5},{"r":43,"c":4,"v":1.5},{"r":43,"c":5,"v":1.5},{"r":43,"c":6,"v":1.5},{"r":43,"c":7,"v":1.5},{"r":43,"c":8,"v":1.5},{"r":43,"c":9,"v":1.5},{"r":43,"c":10,"v":1.5},{"r":43,"c":11,"v":1.5},{"r":43,"c":12,"v":1.5},{"r":43,"c":13,"v":1.5},{"r":43,"c":14,"v":1.5},{"r":43,"c":15,"v":9},{"r":43,"c":16,"v":9},{"r":43,"c":17,"v":7},{"r":43,"c":18,"v":6},{"r":43,"c":19,"v":5},{"r":43,"c":20,"v":5},{"r":43,"c":21,"v":12},{"r":43,"c":22,"v":12},{"r":43,"c":23,"v":12},{"r":43,"c":24,"v":12},{"r":43,"c":25,"v":12},
{"r":44,"c":0,"v":1},{"r":44,"c":1,"v":1},{"r":44,"c":2,"v":1},{"r":44,"c":3,"v":1},{"r":44,"c":4,"v":1},{"r":44,"c":5,"v":1},{"r":44,"c":6,"v":1},{"r":44,"c":7,"v":1},{"r":44,"c":8,"v":1},{"r":44,"c":9,"v":1},{"r":44,"c":10,"v":1},{"r":44,"c":11,"v":1},{"r":44,"c":12,"v":1},{"r":44,"c":13,"v":1},{"r":44,"c":14,"v":1},{"r":44,"c":15,"v":8},{"r":44,"c":16,"v":8},{"r":44,"c":17,"v":5},{"r":44,"c":18,"v":5},{"r":44,"c":19,"v":5},{"r":44,"c":20,"v":5},{"r":44,"c":21,"v":13},{"r":44,"c":22,"v":13},{"r":44,"c":23,"v":13},{"r":44,"c":24,"v":13},{"r":44,"c":25,"v":13},
{"r":45,"c":0,"v":1},{"r":45,"c":1,"v":1},{"r":45,"c":2,"v":1},{"r":45,"c":3,"v":1},{"r":45,"c":4,"v":1},{"r":45,"c":5,"v":1},{"r":45,"c":6,"v":1},{"r":45,"c":7,"v":1},{"r":45,"c":8,"v":1},{"r":45,"c":9,"v":1},{"r":45,"c":10,"v":1},{"r":45,"c":11,"v":1},{"r":45,"c":12,"v":1},{"r":45,"c":13,"v":1},{"r":45,"c":14,"v":1},{"r":45,"c":15,"v":10},{"r":45,"c":16,"v":10},{"r":45,"c":17,"v":3},{"r":45,"c":18,"v":3},{"r":45,"c":19,"v":5},{"r":45,"c":20,"v":6},{"r":45,"c":21,"v":13},{"r":45,"c":22,"v":13},{"r":45,"c":23,"v":13},{"r":45,"c":24,"v":13.5},{"r":45,"c":25,"v":13},
{"r":46,"c":0,"v":1},{"r":46,"c":1,"v":1},{"r":46,"c":2,"v":1},{"r":46,"c":3,"v":1},{"r":46,"c":4,"v":1},{"r":46,"c":5,"v":1},{"r":46,"c":6,"v":1},{"r":46,"c":7,"v":1},{"r":46,"c":8,"v":1},{"r":46,"c":9,"v":1},{"r":46,"c":10,"v":1},{"r":46,"c":11,"v":1},{"r":46,"c":12,"v":1},{"r":46,"c":13,"v":1},{"r":46,"c":14,"v":1},{"r":46,"c":15,"v":11},{"r":46,"c":16,"v":11},{"r":46,"c":17,"v":2},{"r":46,"c":18,"v":2},{"r":46,"c":19,"v":4},{"r":46,"c":20,"v":4},{"r":46,"c":21,"v":13},{"r":46,"c":22,"v":14},{"r":46,"c":23,"v":14},{"r":46,"c":24,"v":14},{"r":46,"c":25,"v":13},
{"r":47,"c":0,"v":1},{"r":47,"c":1,"v":1},{"r":47,"c":2,"v":1},{"r":47,"c":3,"v":1},{"r":47,"c":4,"v":1},{"r":47,"c":5,"v":1},{"r":47,"c":6,"v":1},{"r":47,"c":7,"v":1},{"r":47,"c":8,"v":1},{"r":47,"c":9,"v":1},{"r":47,"c":10,"v":1},{"r":47,"c":11,"v":1},{"r":47,"c":12,"v":1},{"r":47,"c":13,"v":1},{"r":47,"c":14,"v":1},{"r":47,"c":15,"v":11},{"r":47,"c":16,"v":11},{"r":47,"c":17,"v":2},{"r":47,"c":18,"v":2},{"r":47,"c":19,"v":4},{"r":47,"c":20,"v":4},{"r":47,"c":21,"v":13},{"r":47,"c":22,"v":13},{"r":47,"c":23,"v":13},{"r":47,"c":24,"v":13},{"r":47,"c":25,"v":13},
{"r":48,"c":0,"v":0.5},{"r":48,"c":1,"v":0.5},{"r":48,"c":2,"v":0.5},{"r":48,"c":3,"v":0.5},{"r":48,"c":4,"v":0.5},{"r":48,"c":5,"v":0.5},{"r":48,"c":6,"v":0.5},{"r":48,"c":7,"v":0.5},{"r":48,"c":8,"v":0.5},{"r":48,"c":9,"v":0.5},{"r":48,"c":10,"v":0.5},{"r":48,"c":11,"v":0.5},{"r":48,"c":12,"v":0.5},{"r":48,"c":13,"v":0.5},{"r":48,"c":14,"v":0.5},{"r":48,"c":15,"v":1},{"r":48,"c":16,"v":1},{"r":48,"c":17,"v":1},{"r":48,"c":18,"v":1},{"r":48,"c":19,"v":1},{"r":48,"c":20,"v":1},{"r":48,"c":21,"v":13},{"r":48,"c":22,"v":13},{"r":48,"c":23,"v":13},{"r":48,"c":24,"v":13},{"r":48,"c":25,"v":13},
{"r":49,"c":0,"v":1},{"r":49,"c":1,"v":1},{"r":49,"c":2,"v":1},{"r":49,"c":3,"v":1},{"r":49,"c":4,"v":1},{"r":49,"c":5,"v":1},{"r":49,"c":6,"v":1},{"r":49,"c":7,"v":1},{"r":49,"c":8,"v":1},{"r":49,"c":9,"v":1},{"r":49,"c":10,"v":1},{"r":49,"c":11,"v":1},{"r":49,"c":12,"v":1},{"r":49,"c":13,"v":1},{"r":49,"c":14,"v":1},{"r":49,"c":15,"v":3},{"r":49,"c":16,"v":3},{"r":49,"c":17,"v":4},{"r":49,"c":18,"v":4},{"r":49,"c":19,"v":2},{"r":49,"c":20,"v":2},{"r":49,"c":21,"v":14},{"r":49,"c":22,"v":13},{"r":49,"c":23,"v":12},{"r":49,"c":24,"v":12},{"r":49,"c":25,"v":12}],
"bar":[{"k":0,"v":0},{"k":1,"v":1},{"k":2,"v":2},{"k":3,"v":3},{"k":4,"v":4},{"k":5,"v":5},{"k":6,"v":6},{"k":7,"v":7},{"k":8,"v":8},{"k":9,"v":9},{"k":10,"v":10},{"k":11,"v":11},{"k":12,"v":12},{"k":13,"v":13},{"k":14,"v":14.5}]},
"layer":[
{"data":{"name":"heat"},"mark":{"type":"rect"},"encoding":{"x":{"field":"c","type":"ordinal","axis":null,"scale":{"type":"band","domain":[0,1,2,3,4,5,6,7,8,9,10,11,12,13,14,15,16,17,18,19,20,21,22,23,24,25],"range":[85,385],"paddingInner":0,"paddingOuter":0}},"y":{"field":"r","type":"ordinal","axis":null,"scale":{"type":"band","domain":[0,1,2,3,4,5,6,7,8,9,10,11,12,13,14,15,16,17,18,19,20,21,22,23,24,25,26,27,28,29,30,31,32,33,34,35,36,37,38,39,40,41,42,43,44,45,46,47,48,49],"range":[97,398],"paddingInner":0,"paddingOuter":0}},"color":{"field":"v","type":"quantitative","legend":null,"scale":{"type":"linear","domain":[0,2,4,6,8,10,11,12,13,14,15],"range":["#ed1c24","#ef3324","#f15a24","#f47a20","#faa61a","#fdc40f","#ffd80a","#f7ec13","#f6f06a","#fbf7b0","#fffde8"]}}}},
{"data":{"name":"bar"},"mark":{"type":"rect"},"encoding":{"x":{"field":"k","type":"ordinal","axis":null,"scale":{"type":"band","domain":[0,1,2,3,4,5,6,7,8,9,10,11,12,13,14],"range":[453,578],"paddingInner":0,"paddingOuter":0}},"y":{"value":430},"y2":{"value":481},"color":{"field":"v","type":"quantitative","legend":null,"scale":{"type":"linear","domain":[0,2,4,6,8,10,11,12,13,14,15],"range":["#ed1c24","#ef3324","#f15a24","#f47a20","#faa61a","#fdc40f","#ffd80a","#f7ec13","#f6f06a","#fbf7b0","#fffde8"]}}}},
{"encoding":{"x":{"field":"x","type":"quantitative","axis":null,"scale":{"domain":[0,738],"range":[0,738]}},"y":{"field":"y","type":"quantitative","axis":null,"scale":{"domain":[0,503],"range":[0,503]}}},
"layer":[
{"data":{"values":[{"x":76,"x2":83,"y":97,"y2":398}]},"mark":{"type":"rect","fill":"#9a9a9a"},"encoding":{"x2":{"field":"x2"},"y2":{"field":"y2"}}},
{"data":{"values":[{"x":388,"x2":396,"y":97,"y2":398}]},"mark":{"type":"rect","fill":"#dcdcdc"},"encoding":{"x2":{"field":"x2"},"y2":{"field":"y2"}}},
{"data":{"values":[{"x":86,"x2":385,"y":85,"y2":93}]},"mark":{"type":"rect","fill":"#e6e6e6"},"encoding":{"x2":{"field":"x2"},"y2":{"field":"y2"}}},
{"data":{"values":[{"x":283,"x2":318,"y":78,"y2":85}]},"mark":{"type":"rect","fill":"#e6e6e6"},"encoding":{"x2":{"field":"x2"},"y2":{"field":"y2"}}},
{"data":{"name":"top"},"mark":{"type":"rule","stroke":"#444444","strokeWidth":0.8},"encoding":{"x":{"field":"a"},"x2":{"field":"b"},"y":{"field":"m"}}},
{"data":{"name":"top"},"mark":{"type":"rule","stroke":"#444444","strokeWidth":0.8},"encoding":{"x":{"field":"a"},"y":{"field":"m"},"y2":{"field":"p"}}},
{"data":{"name":"top"},"mark":{"type":"rule","stroke":"#444444","strokeWidth":0.8},"encoding":{"x":{"field":"b"},"y":{"field":"m"},"y2":{"field":"q"}}},
{"data":{"name":"left"},"mark":{"type":"rule","stroke":"#444444","strokeWidth":0.8},"encoding":{"y":{"field":"a"},"y2":{"field":"b"},"x":{"field":"m"}}},
{"data":{"name":"left"},"mark":{"type":"rule","stroke":"#444444","strokeWidth":0.8},"encoding":{"y":{"field":"a"},"x":{"field":"m"},"x2":{"field":"p"}}},
{"data":{"name":"left"},"mark":{"type":"rule","stroke":"#444444","strokeWidth":0.8},"encoding":{"y":{"field":"b"},"x":{"field":"m"},"x2":{"field":"q"}}},
{"data":{"values":[{"x":83,"x2":738,"y":197.7},{"x":83,"x2":738,"y":300.7},{"x":83,"x2":738,"y":330}]},"mark":{"type":"rule","stroke":"#1a1a1a","strokeWidth":2},"encoding":{"x2":{"field":"x2"}}},
{"data":{"values":[{"x":92,"x2":255,"y":75},{"x":263,"x2":320,"y":75},{"x":330,"x2":384,"y":75}]},"mark":{"type":"rule","stroke":"#1a1a1a","strokeWidth":1.6},"encoding":{"x2":{"field":"x2"}}},
{"data":{"values":[{"x":453,"y":481,"y2":483},{"x":472,"y":481,"y2":483},{"x":493,"y":481,"y2":483},{"x":512,"y":481,"y2":483},{"x":531,"y":481,"y2":483},{"x":552,"y":481,"y2":483},{"x":571,"y":481,"y2":483}]},"mark":{"type":"rule","stroke":"#555555","strokeWidth":0.6},"encoding":{"y2":{"field":"y2"}}},
{"data":{"values":[{"x":176,"y":38,"t":"primary"},{"x":198,"y":43,"t":"hepatocytes"},{"x":300,"y":53,"t":"HLCs"},{"x":378,"y":43,"t":"ESCs/hiPSCs"}]},"mark":{"type":"text","fontSize":14.5,"angle":315,"align":"center","baseline":"middle"},"encoding":{"text":{"field":"t"}}},
{"data":{"values":[{"x":405,"y":52,"t":"GO"},{"x":405,"y":68,"t":"enrichment"},{"x":560,"y":66,"t":"genes"},{"x":691,"y":66,"t":"group"},{"x":405,"y":108,"t":"secondary metabolic"},{"x":405,"y":124,"t":"process"},{"x":405,"y":144,"t":"xenophobic metabolic"},{"x":405,"y":160.5,"t":"process"},{"x":405,"y":177,"t":"small molecule"},{"x":405,"y":192,"t":"metabolic process"},{"x":405,"y":217,"t":"extracellular region"},{"x":405,"y":243,"t":"acute phase"},{"x":405,"y":259,"t":"response"},{"x":405,"y":278,"t":"small molecule"},{"x":405,"y":295,"t":"metabolic process"},{"x":405,"y":322,"t":"extracellular region"},{"x":405,"y":353,"t":"cell cycle check point"},{"x":405,"y":378,"t":"regulation of cell"},{"x":405,"y":396,"t":"cycle arrest"}]},"mark":{"type":"text","fontSize":14.4,"align":"left","baseline":"alphabetic"},"encoding":{"text":{"field":"t"}}},
{"data":{"values":[{"x":559,"y":108,"t":"ADHA1, CYP2E1,"},{"x":559,"y":119,"t":"CYP3A4"},{"x":559,"y":144,"t":"ALDH8A1, SLC22A1,"},{"x":559,"y":156,"t":"UGT2B15"},{"x":559,"y":177,"t":"CYPA1, SLC2A2,"},{"x":559,"y":190,"t":"UGT2B15"},{"x":559,"y":215,"t":"A2M, ALB, APOA1,"},{"x":559,"y":227,"t":"TTR"},{"x":559,"y":243,"t":"APCS, ORM1,"},{"x":559,"y":255,"t":"SERPINA1"},{"x":559,"y":281,"t":"ARG1, ALDHA1,"},{"x":559,"y":293,"t":"SULT2A1"},{"x":559,"y":313,"t":"COL1A2, COL3A1,"},{"x":559,"y":326,"t":"COL6A3"},{"x":559,"y":351,"t":"CDC20, CDK1, TTK"},{"x":559,"y":379,"t":"TOP2A, DLGAP5,"},{"x":559,"y":394,"t":"DNMT3B"}]},"mark":{"type":"text","fontSize":14.5,"fontStyle":"italic","align":"left","baseline":"alphabetic"},"encoding":{"text":{"field":"t"}}},
{"data":{"values":[{"x":702,"y":142,"t":"4"},{"x":702,"y":263,"t":"3"},{"x":702,"y":320,"t":"2"},{"x":702,"y":367,"t":"1"}]},"mark":{"type":"text","fontSize":14,"fontWeight":"bold","align":"left","baseline":"alphabetic"},"encoding":{"text":{"field":"t"}}},
{"data":{"values":[{"x":516,"y":419,"t":"expression level"},{"x":453,"y":498,"t":"0"},{"x":472,"y":498,"t":"4"},{"x":493,"y":498,"t":"6"},{"x":512,"y":498,"t":"8"},{"x":531,"y":498,"t":"10"},{"x":552,"y":498,"t":"12"},{"x":571,"y":498,"t":"14"}]},"mark":{"type":"text","fontSize":14.5,"align":"center","baseline":"alphabetic"},"encoding":{"text":{"field":"t"}}}
]}
],
"resolve":{"scale":{"x":"independent","y":"independent","color":"independent"}}}
